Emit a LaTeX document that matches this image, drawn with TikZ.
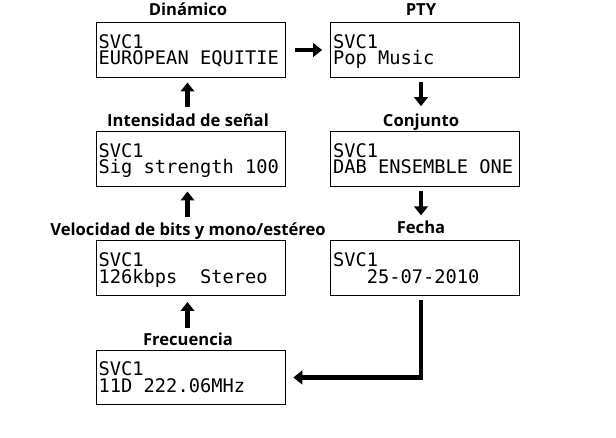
\documentclass[tikz,border=0pt]{standalone}
\usepackage{fontspec}
\setmainfont{Open Sans}
\newfontfamily\lcdfont{DejaVu Sans Mono}
\usetikzlibrary{arrows.meta}
\tikzset{
  dispbox/.style={draw=black, line width=1.1pt, minimum width=189pt, minimum height=54.5pt, inner sep=0pt},
  disptext/.style={anchor=base west, inner sep=0pt, font=\lcdfont\fontsize{18.7}{16.7}\selectfont},
  title/.style={anchor=base, inner sep=0pt, font=\bfseries\fontsize{16.6}{18}\selectfont},
  arr/.style={line width=4.5pt, line join=miter, -{Triangle[length=9pt,width=13.5pt]}},
}
\newcommand{\disp}[2]{\vtop{\baselineskip=16.7pt\hbox{#1}\hbox{#2}}}
\begin{document}
\begin{tikzpicture}[x=1pt,y=-1pt]
\useasboundingbox (0,0) rectangle (616,438);
% boxes
\node[dispbox] (b1) at (191.2,50) {};
\node[dispbox] (b2) at (191.2,159) {};
\node[dispbox] (b3) at (191.2,268.2) {};
\node[dispbox] (b4) at (191.2,377.5) {};
\node[dispbox] (b5) at (425.2,50) {};
\node[dispbox] (b6) at (425.2,159) {};
\node[dispbox] (b7) at (425.2,268.2) {};
% display texts
\node[disptext] (t1) at (98.5,48.3) {\disp{SVC1}{EUROPEAN EQUITIE}};
\node[disptext] (t2) at (98.5,157.3) {\disp{SVC1}{Sig strength 100}};
\node[disptext] (t3) at (98.5,266.5) {\disp{SVC1}{126kbps\ \ Stereo}};
\node[disptext] (t4) at (98.5,375.8) {\disp{SVC1}{11D 222.06MHz}};
\node[disptext] (t5) at (332.8,48.3) {\disp{SVC1}{Pop Music}};
\node[disptext] (t6) at (332.8,157.3) {\disp{SVC1}{DAB ENSEMBLE ONE}};
\node[disptext] (t7) at (332.8,266.5) {\disp{SVC1}{\ \ \ 25-07-2010}};
% titles
\node[title] (l1) at (188,16) {Dinámico};
\node[title] (l2) at (188,127) {Intensidad de señal};
\node[title] (l3) at (188,236) {Velocidad de bits y mono/estéreo};
\node[title] (l4) at (188,346) {Frecuencia};
\node[title] (l5) at (421,16) {PTY};
\node[title] (l6) at (421,127) {Conjunto};
\node[title] (l7) at (421,234) {Fecha};
% column coordinates
\coordinate (cl) at (187.5,0);
\coordinate (cr) at (421,0);
% arrows
\draw[arr, shorten <=23.7pt, shorten >=4.7pt] (b2.north -| cl) -- (b1.south -| cl);
\draw[arr, shorten <=23.7pt, shorten >=4.7pt] (b3.north -| cl) -- (b2.south -| cl);
\draw[arr, shorten <=22pt, shorten >=6pt] (b4.north -| cl) -- (b3.south -| cl);
\draw[arr, shorten <=9pt, shorten >=8pt] (b1.east) -- (b5.west);
\draw[arr, shorten <=4.5pt, shorten >=25pt] (b5.south -| cr) -- (b6.north -| cr);
\draw[arr, shorten <=4.5pt, shorten >=25pt] (b6.south -| cr) -- (b7.north -| cr);
\draw[arr, shorten <=4.5pt, shorten >=7pt] (b7.south -| cr) |- (b4.east);
\end{tikzpicture}
\end{document}
